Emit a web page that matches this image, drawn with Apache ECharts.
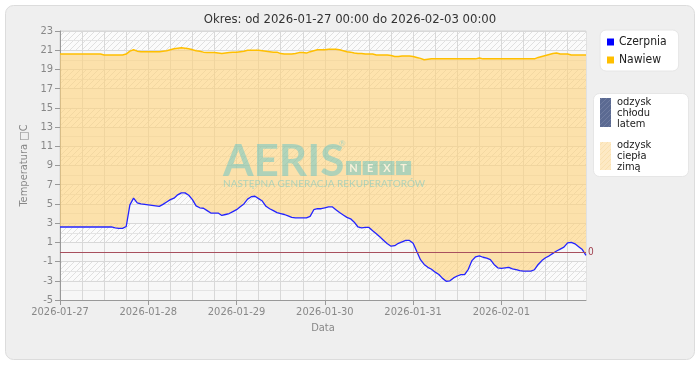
<!DOCTYPE html>
<html><head><meta charset="utf-8">
<script src="https://cdn.jsdelivr.net/npm/echarts@6/dist/echarts.min.js"></script>
<style>html,body{margin:0;padding:0;background:#fff}#c{width:700px;height:380px}</style>
</head><body><div id="c"></div>
<script>
const titleText = 'Okres: od 2026-01-27 00:00 do 2026-02-03 00:00';
const startUTC = [2026, 0, 27, 0];
const yTicks = { min: -5, max: 23, step: 2 };
const legendNames = ['Czerpnia', 'Nawiew'];
const legend2Texts = ['odzysk\nchłodu\nlatem', 'odzysk\nciepła\nzimą'];
const watermarkTexts = ['AERIS', 'NEXT', 'NASTĘPNA GENERACJA REKUPERATORÓW'];

// hourly readings (°C)
const czerpnia = [
 2.6,2.6,2.6,2.6,2.6,2.6,2.6,2.6,2.6,2.6,2.6,2.6,
 2.6,2.6,2.6,2.5,2.45,2.45,2.65,4.9,5.6,5.1,5.0,4.95,
 4.9,4.85,4.8,4.75,4.95,5.2,5.45,5.6,5.95,6.15,6.15,5.9,
 5.45,4.8,4.6,4.55,4.3,4.05,4.05,4.05,3.8,3.9,4.0,4.2,
 4.4,4.7,5.0,5.5,5.75,5.8,5.55,5.3,4.75,4.5,4.3,4.1,
 4.0,3.9,3.75,3.6,3.55,3.55,3.55,3.55,3.7,4.4,4.5,4.5,
 4.6,4.7,4.7,4.4,4.1,3.85,3.6,3.45,3.1,2.6,2.5,2.55,
 2.55,2.2,1.9,1.55,1.2,0.85,0.6,0.65,0.9,1.05,1.2,1.2,
 0.9,0.05,-0.8,-1.3,-1.6,-1.8,-2.1,-2.35,-2.75,-3.05,-3.0,-2.7,
 -2.5,-2.35,-2.35,-1.8,-0.9,-0.5,-0.4,-0.55,-0.65,-0.8,-1.3,-1.65,
 -1.7,-1.65,-1.6,-1.75,-1.85,-1.95,-2.0,-2.0,-2.0,-1.85,-1.3,-0.9,
 -0.6,-0.4,-0.15,0.1,0.3,0.5,0.95,1.0,0.85,0.55,0.25,-0.35
];
const nawiew = [
 20.6,20.6,20.6,20.6,20.6,20.6,20.6,20.6,20.6,20.6,20.6,20.6,
 20.5,20.5,20.5,20.5,20.5,20.5,20.6,20.9,21.05,20.9,20.85,20.85,
 20.85,20.85,20.85,20.85,20.9,20.95,21.05,21.15,21.2,21.25,21.2,21.15,
 21.05,20.95,20.9,20.8,20.75,20.75,20.75,20.7,20.65,20.7,20.75,20.8,
 20.8,20.85,20.9,21.0,21.0,21.0,21.0,20.95,20.9,20.85,20.8,20.8,
 20.65,20.6,20.6,20.6,20.65,20.75,20.75,20.7,20.85,20.95,21.05,21.05,
 21.05,21.1,21.1,21.1,21.05,20.95,20.85,20.8,20.7,20.65,20.65,20.6,
 20.6,20.6,20.5,20.5,20.5,20.5,20.45,20.35,20.35,20.4,20.4,20.4,
 20.35,20.25,20.15,20.0,20.05,20.1,20.1,20.1,20.1,20.1,20.1,20.1,
 20.1,20.1,20.1,20.1,20.1,20.1,20.2,20.1,20.1,20.1,20.1,20.1,
 20.1,20.1,20.1,20.1,20.1,20.1,20.1,20.1,20.1,20.1,20.25,20.35,
 20.45,20.55,20.65,20.7,20.6,20.6,20.6,20.5,20.5,20.5,20.5,20.5
];

const pad = n => String(n).padStart(2, '0');
const categories = czerpnia.map((_, i) => {
  const d = new Date(Date.UTC(startUTC[0], startUTC[1], startUTC[2], startUTC[3] + i));
  return d.getUTCFullYear() + '-' + pad(d.getUTCMonth() + 1) + '-' + pad(d.getUTCDate()) + ' ' + pad(d.getUTCHours()) + ':00';
});
const gap = nawiew.map((v, i) => +(v - czerpnia[i]).toFixed(2));

function hatch(bg, fg, size) {
  const c = document.createElement('canvas');
  c.width = c.height = size;
  const g = c.getContext('2d');
  g.fillStyle = bg; g.fillRect(0, 0, size, size);
  g.strokeStyle = fg; g.lineWidth = 1;
  g.beginPath();
  g.moveTo(-1, size + 1); g.lineTo(size + 1, -1);
  g.moveTo(-1, 1); g.lineTo(1, -1);
  g.moveTo(size - 1, size + 1); g.lineTo(size + 1, size - 1);
  g.stroke();
  return { image: c, repeat: 'repeat' };
}
const FONT = '"DejaVu Sans Condensed", "DejaVu Sans", sans-serif';
const fillColor = 'rgba(255, 212, 124, 0.62)';
const wm = 'rgba(70, 190, 205, 0.42)';

const chart = echarts.init(document.getElementById('c'), null, { renderer: 'canvas' });
chart.setOption({
  animation: false,
  textStyle: { fontFamily: FONT },
  title: { text: titleText, left: 'center', top: 8, textStyle: { fontSize: 13, fontWeight: 'normal', color: '#333', fontFamily: FONT } },
  grid: { left: 60, right: 114, top: 31, bottom: 80, show: true, borderColor: '#d4d4d4', borderWidth: 1, backgroundColor: 'transparent' },
  legend: {
    data: legendNames, orient: 'vertical', left: 600, top: 30, icon: 'rect', itemWidth: 7, itemHeight: 7, itemGap: 6,
    backgroundColor: '#fff', borderRadius: 6, borderColor: '#e6e6e6', borderWidth: 1, padding: [6, 12, 5, 7],
    textStyle: { fontSize: 12, color: '#222', fontFamily: FONT, padding: [0, 0, 0, 0] }
  },
  xAxis: {
    type: 'category', data: categories, boundaryGap: false,
    name: 'Data', nameLocation: 'middle', nameGap: 22, nameTextStyle: { color: '#888', fontSize: 11 },
    axisLine: { onZero: false, lineStyle: { color: '#999' } },
    axisTick: { interval: 23, length: 5, lineStyle: { color: '#999' } },
    axisLabel: { interval: 23, color: '#888', fontSize: 11, margin: 7, formatter: v => v.slice(0, 10) },
    splitLine: { show: true, interval: 5, lineStyle: { color: '#d8d8d8' } }
  },
  yAxis: {
    type: 'value', min: yTicks.min, max: yTicks.max, interval: yTicks.step,
    name: 'Temperatura □C', nameLocation: 'middle', nameGap: 27, nameTextStyle: { color: '#888', fontSize: 11 },
    axisLine: { show: true, lineStyle: { color: '#999' } },
    axisTick: { show: true, length: 5, lineStyle: { color: '#999' } },
    axisLabel: { color: '#888', fontSize: 11, margin: 7 },
    splitLine: { lineStyle: { color: '#d8d8d8' } },
    minorTick: { show: false, splitNumber: 2 },
    minorSplitLine: { show: true, lineStyle: { color: '#e4e4e4' } },
    splitArea: { show: true, areaStyle: { color: ['#f7f7f7', hatch('#fbfbfb', '#e0e0e0', 6)] } }
  },
  series: [
    { name: 'base', type: 'line', data: czerpnia, stack: 'fill', stackStrategy: 'all', symbol: 'none', silent: true,
      lineStyle: { opacity: 0 }, z: 1 },
    { name: 'gap', type: 'line', data: gap, stack: 'fill', stackStrategy: 'all', symbol: 'none', silent: true,
      lineStyle: { opacity: 0 }, areaStyle: { color: fillColor, opacity: 1 }, z: 1 },
    { name: 'Czerpnia', type: 'line', data: czerpnia, symbol: 'none', z: 4,
      itemStyle: { color: '#0000ff' }, lineStyle: { color: '#2424ff', width: 1.3 },
      markLine: { silent: true, symbol: 'none', data: [{ yAxis: 0 }],
        lineStyle: { color: '#a8505e', type: 'solid', width: 1.2 },
        label: { position: 'end', formatter: '0', color: '#a0404f', fontSize: 10, distance: 2 } } },
    { name: 'Nawiew', type: 'line', data: nawiew, symbol: 'none', z: 3,
      itemStyle: { color: '#ffbf00' }, lineStyle: { color: '#ffbf00', width: 1.5 } }
  ],
  graphic: [
    { type: 'rect', z: -100, silent: true, shape: { x: 5.5, y: 5.5, width: 689, height: 354, r: 8 },
      style: { fill: '#efefef', stroke: '#dcdcdc', lineWidth: 1 } },
    { type: 'rect', z: 50, silent: true, shape: { x: 593.5, y: 93.5, width: 95, height: 83, r: 6 },
      style: { fill: '#fff', stroke: '#e6e6e6', lineWidth: 1 } },
    { type: 'rect', z: 51, silent: true, shape: { x: 600, y: 98, width: 11, height: 29 },
      style: { fill: hatch('#5b6a92', '#6f7ca0', 5) } },
    { type: 'text', z: 51, silent: true, x: 617, y: 97,
      style: { text: legend2Texts[0], fontSize: 11, lineHeight: 11, fill: '#222', fontFamily: FONT } },
    { type: 'rect', z: 51, silent: true, shape: { x: 600, y: 142, width: 11, height: 28 },
      style: { fill: hatch('#fde9c4', '#f9e0b0', 5) } },
    { type: 'text', z: 51, silent: true, x: 617, y: 140,
      style: { text: legend2Texts[1], fontSize: 11, lineHeight: 11, fill: '#222', fontFamily: FONT } },
    // watermark
    { type: 'text', z: 20, silent: true, x: 223, y: 140,
      style: { text: watermarkTexts[0], fontSize: 44, fontWeight: 'bold', fontFamily: 'Lato, sans-serif', fill: wm } },
    { type: 'text', z: 20, silent: true, x: 339, y: 139,
      style: { text: '®', fontSize: 8, fontFamily: 'Lato, sans-serif', fill: wm } },
    { type: 'group', z: 20, silent: true, x: 346, y: 161, children: [0, 1, 2, 3].map(k => ({
      type: 'group', x: k * 16.7, children: [
        { type: 'rect', z: 20, shape: { x: 0, y: 0, width: 15, height: 14 }, style: { fill: wm } },
        { type: 'text', z: 21, x: 7.5, y: 7.5, style: { text: watermarkTexts[1][k], fontSize: 11, fontWeight: 'bold',
          fontFamily: 'Lato, sans-serif', fill: 'rgba(255,244,222,0.9)', align: 'center', verticalAlign: 'middle' } }
      ] })) },
    { type: 'text', z: 20, silent: true, x: 223, y: 179,
      style: { text: watermarkTexts[2], fontSize: 10, fontFamily: 'Lato, sans-serif', fill: wm } }
  ]
});
</script></body></html>
